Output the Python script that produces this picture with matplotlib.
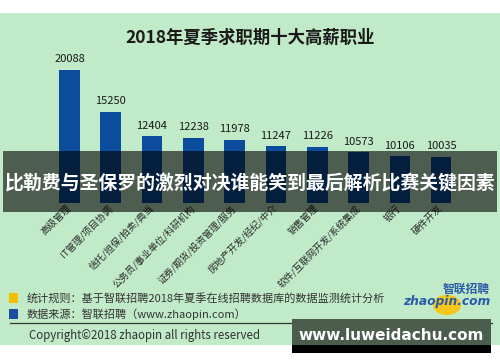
import matplotlib
matplotlib.use("Agg")
import matplotlib.pyplot as plt
from matplotlib.patches import Rectangle, Circle

plt.rcParams['font.family'] = ['Noto Sans CJK SC', 'DejaVu Sans']

jobs = ['高级管理', 'IT管理/项目协调', '信托/担保/拍卖/典当', '公务员/事业单位/科研机构',
        '证券/期货/投资管理/服务', '房地产开发/经纪/中介', '销售管理',
        '软件/互联网开发/系统集成', '银行', '硬件开发']
salary = [20088, 15250, 12404, 12238, 11978, 11247, 11226, 10573, 10106, 10035]

W, H = 500, 362
green = '#c0eac8'
bar_blue = '#0b4c9c'


def fx(px):
    return px / W


def fy(py):
    return 1 - py / H


fig = plt.figure(figsize=(W / 100, H / 100), dpi=100)
fig.patch.set_facecolor('white')

# green panel
fig.patches.append(Rectangle((0, fy(345)), 1, fy(13) - fy(345), transform=fig.transFigure,
                             facecolor=green, edgecolor='none', zorder=-10))

ax = fig.add_axes([fx(48.8), fy(203), fx(413), fy(53.5) - fy(203)])
ax.set_facecolor('none')
x = range(len(jobs))
ax.bar(x, salary, width=0.5, color=bar_blue, zorder=2)
for i, v in enumerate(salary):
    ax.text(i, v + 650, str(v), ha='center', va='bottom', fontsize=8, color='#1a1a1a')
ax.set_xlim(-0.5, len(jobs) - 0.5)
ax.set_ylim(4700, 22000)
ax.set_xticks(list(x))
ax.set_xticklabels(jobs, rotation=45, ha='right', va='center', rotation_mode='anchor',
                   fontsize=6.8, color='#2a2a2a')
ax.tick_params(axis='x', length=0, pad=2.5)
ax.set_yticks([])
for s in ax.spines.values():
    s.set_visible(False)

fig.text(0.5, fy(38), '2018年夏季求职期十大高薪职业', ha='center', va='center',
         fontsize=12.5, fontweight='bold', color='#1a1a1a')

# footer
fig.patches.append(Rectangle((fx(9), fy(303)), fx(9), fy(293) - fy(303), transform=fig.transFigure,
                             facecolor='#f5c000', edgecolor='none'))
fig.patches.append(Rectangle((fx(9), fy(319)), fx(9), fy(309) - fy(319), transform=fig.transFigure,
                             facecolor='#1a4fa0', edgecolor='none'))
fig.text(fx(27), fy(298), '统计规则：基于智联招聘2018年夏季在线招聘数据库的数据监测统计分析',
         ha='left', va='center', fontsize=8, color='#333333')
fig.text(fx(27), fy(314), '数据来源：智联招聘（www.zhaopin.com）',
         ha='left', va='center', fontsize=8, color='#333333')
fig.lines.append(plt.Line2D([fx(10), fx(492)], [fy(323), fy(323)], transform=fig.transFigure,
                            color='#333333', linewidth=0.9))
fig.text(fx(29), fy(336), 'Copyright©2018 zhaopin all rights reserved',
         ha='left', va='center', fontsize=8.3, color='#333333')

# logo
fig.patches.append(Circle((fx(447), fy(305)), 14 / W, transform=fig.transFigure,
                          facecolor='#f7c61a', edgecolor='none'))
fig.text(fx(490), fy(289), '智联招聘', ha='right', va='center', fontsize=8.5,
         fontweight='bold', style='italic', color='#2a5caa')
fig.text(fx(490), fy(302), 'zhaopin.com', ha='right', va='center', fontsize=8.8,
         fontweight='bold', style='italic', color='#2a5caa', family='DejaVu Sans')

# overlay banner
fig.patches.append(Rectangle((fx(3), fy(212)), fx(494), fy(151) - fy(212), transform=fig.transFigure,
                             facecolor='black', alpha=0.6, edgecolor='none', zorder=5))
fig.text(0.5, fy(183), '比勒费与圣保罗的激烈对决谁能笑到最后解析比赛关键因素', ha='center', va='center',
         fontsize=13.6, fontweight='bold', color='white', zorder=6)

# watermark
fig.patches.append(Rectangle((fx(292), fy(345)), fx(199), fy(319) - fy(345), transform=fig.transFigure,
                             facecolor='#4b5e4d', edgecolor='none', zorder=5))
fig.patches.append(Rectangle((fx(292), fy(353)), fx(199), fy(345) - fy(353), transform=fig.transFigure,
                             facecolor='black', edgecolor='none', zorder=5))
fig.text(fx(391), fy(335), 'www.luweidachu.com', ha='center', va='center', fontsize=11,
         fontweight='bold', color='white', family='DejaVu Sans', zorder=6)

fig.savefig('out.png', dpi=100)
